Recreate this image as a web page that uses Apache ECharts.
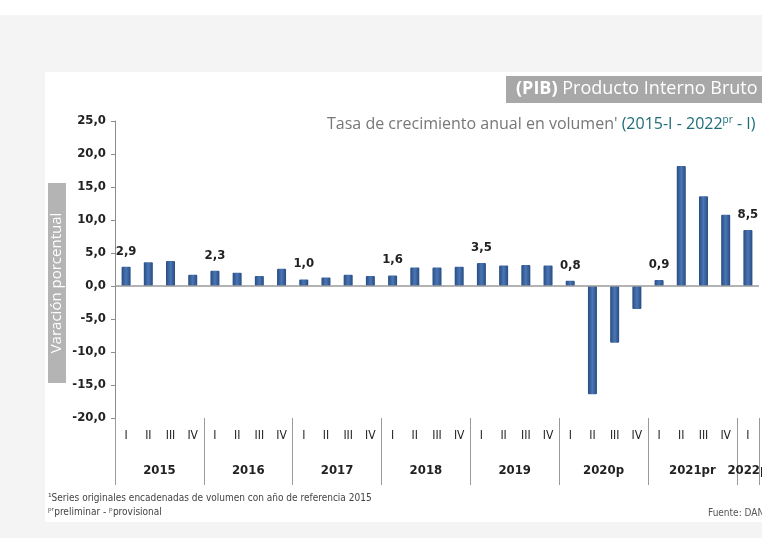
<!DOCTYPE html>
<html>
<head>
<meta charset="utf-8">
<script src="https://cdn.jsdelivr.net/npm/echarts@6/dist/echarts.min.js"></script>
<style>
  html, body { margin: 0; padding: 0; background: #ffffff; }
  #pibChart { width: 762px; height: 538px; }
</style>
</head>
<body>
<div id="pibChart"></div>
<script>
// trimestres 2015-I ... 2022-I
const quarters = [
  'I', 'II', 'III', 'IV', 'I', 'II', 'III', 'IV', 'I', 'II', 'III', 'IV',
  'I', 'II', 'III', 'IV', 'I', 'II', 'III', 'IV', 'I', 'II', 'III', 'IV',
  'I', 'II', 'III', 'IV', 'I'
]
const years = ['2015', '2016', '2017', '2018', '2019', '2020p', '2021pr', '2022p']
// variacion porcentual anual
const growth = [
  2.9, 3.6, 3.8, 1.7,
  2.3, 2.0, 1.5, 2.6,
  1.0, 1.3, 1.7, 1.5,
  1.6, 2.8, 2.8, 2.9,
  3.5, 3.1, 3.2, 3.1,
  0.8, -16.4, -8.6, -3.5,
  0.9, 18.2, 13.6, 10.8,
  8.5
]
// barras con etiqueta (primer trimestre de cada año)
const labeled = [0, 4, 8, 12, 16, 20, 24, 28]
const yTicks = [-20, -15, -10, -5, 0, 5, 10, 15, 20, 25]

const fmt = (v) => v.toFixed(1).replace('.', ',')
const condensed = "'DejaVu Sans Condensed', 'Open Sans', sans-serif"

const chart = echarts.init(document.getElementById('pibChart'))

const barColor = new echarts.graphic.LinearGradient(0, 0, 1, 0, [
  { offset: 0, color: '#284c82' },
  { offset: 0.5, color: '#4a76b5' },
  { offset: 1, color: '#284c82' }
])

// year label positions in half-quarter units on a helper axis
const yearPos = {}
years.forEach((y, i) => {
  const n = Math.min(4, quarters.length - i * 4)
  yearPos[i * 8 + n] = y
})

const options = {
  animation: false,
  backgroundColor: 'transparent',
  graphic: [
    { type: 'rect', z: -10, shape: { x: 0, y: 15, width: 762, height: 523 }, style: { fill: '#f4f4f4' } },
    { type: 'rect', z: -9, shape: { x: 45, y: 72, width: 717, height: 450 }, style: { fill: '#ffffff' } },
    {
      type: 'rect', z: 1, shape: { x: 48, y: 183, width: 18, height: 200 },
      style: { fill: '#b4b4b4' }
    },
    {
      type: 'text', z: 2, x: 57, y: 283, rotation: Math.PI / 2,
      style: {
        text: 'Varación porcentual', fill: '#ffffff', fontSize: 15,
        fontFamily: "'Open Sans', sans-serif", align: 'center', verticalAlign: 'middle'
      }
    },
    {
      type: 'text', left: 48, top: 491,
      style: {
        text: '¹Series originales encadenadas de volumen con año de referencia 2015\nᵖʳpreliminar - ᵖprovisional',
        fill: '#444', fontSize: 10, lineHeight: 14, fontFamily: condensed
      }
    },
    {
      type: 'text', left: 708, top: 508,
      style: { text: 'Fuente: DANE', fill: '#555', fontSize: 10, fontFamily: condensed }
    }
  ],
  title: [
    {
      text: '{b|(PIB)} Producto Interno Bruto',
      left: 506, top: 76,
      backgroundColor: '#a8a8a8',
      padding: [4, 14, 5, 10],
      textStyle: {
        color: '#fff', fontSize: 18, fontWeight: 'normal', fontFamily: "'Open Sans', sans-serif",
        rich: { b: { color: '#fff', fontSize: 18, fontWeight: 'bold', fontFamily: "'Open Sans', sans-serif" } }
      }
    },
    {
      text: 'Tasa de crecimiento anual en volumen\' {t|(2015-I - 2022}{s|pr}{t| - I)}',
      left: 322, top: 110,
      textStyle: {
        color: '#777', fontSize: 16, fontWeight: 'normal', fontFamily: "'Open Sans', sans-serif",
        rich: {
          t: { color: '#1e6d78', fontSize: 16, fontFamily: "'Open Sans', sans-serif" },
          s: { color: '#1e6d78', fontSize: 10, verticalAlign: 'top', padding: [0, 0, 8, 0], fontFamily: "'Open Sans', sans-serif" }
        }
      }
    }
  ],
  grid: { left: 115, right: 3, top: 121, bottom: 120, containLabel: false, outerBoundsMode: 'none' },
  xAxis: [
    {
      type: 'category',
      data: quarters,
      position: 'bottom',
      axisLine: { show: false, onZero: false },
      axisTick: {
        show: true, length: 67, interval: (i) => i % 4 === 0,
        lineStyle: { color: '#9a9a9a', width: 1 }
      },
      axisLabel: {
        interval: 0, margin: 12, color: '#222', fontSize: 12, fontFamily: condensed
      }
    },
    {
      type: 'value',
      min: 0, max: quarters.length * 2, interval: 1,
      position: 'bottom',
      axisLine: { show: false, onZero: false },
      axisTick: { show: false },
      splitLine: { show: false },
      axisLabel: {
        margin: 46, color: '#222', fontSize: 13, fontWeight: 'bold', fontFamily: condensed,
        hideOverlap: false, showMinLabel: true, showMaxLabel: true,
        formatter: (v) => yearPos[v] || ''
      }
    }
  ],
  yAxis: {
    type: 'value',
    min: -20, max: 25, interval: 5,
    axisLine: { show: true, lineStyle: { color: '#8c8c8c' } },
    axisTick: { show: true, length: 4, lineStyle: { color: '#8c8c8c' } },
    splitLine: { show: false },
    axisLabel: {
      margin: 9, color: '#222', fontSize: 13, fontWeight: 'bold', fontFamily: condensed,
      formatter: (v) => yTicks.includes(v) ? fmt(v) : ''
    }
  },
  series: [
    {
      type: 'bar',
      xAxisIndex: 0,
      barWidth: 9,
      itemStyle: { color: barColor, borderRadius: 1 },
      data: growth.map((v, i) => ({
        value: v,
        label: {
          show: labeled.includes(i),
          position: 'top', distance: 9,
          formatter: (p) => fmt(p.value),
          color: '#222', fontSize: 13, fontWeight: 'bold', fontFamily: condensed
        }
      })),
      markLine: {
        silent: true, symbol: 'none', label: { show: false },
        lineStyle: { color: '#9a9a9a', type: 'solid', width: 1.5 },
        data: [{ yAxis: 0 }]
      }
    }
  ]
}

chart.setOption(options)
</script>
</body>
</html>
